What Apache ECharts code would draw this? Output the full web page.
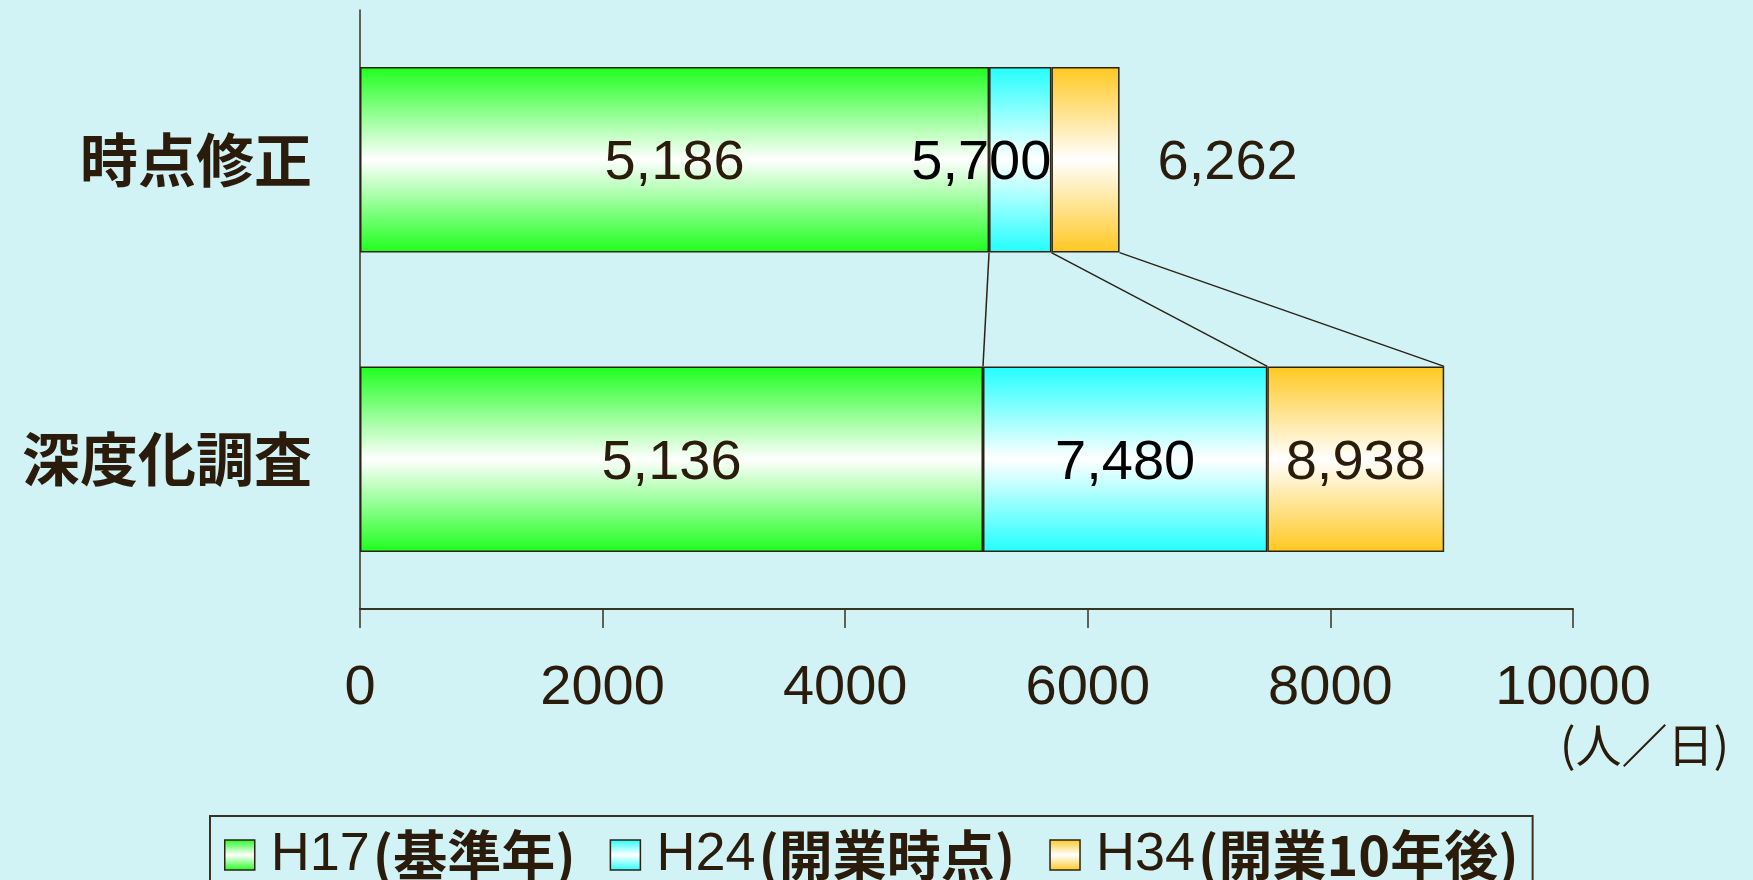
<!DOCTYPE html>
<html>
<head>
<meta charset="utf-8">
<script src="https://cdn.jsdelivr.net/npm/echarts@6/dist/echarts.min.js"></script>
<style>
html,body{margin:0;padding:0;background:#d2f3f6;}
#c{width:1753px;height:880px;}
</style>
</head>
<body>
<div id="c"></div>
<script>
// ---- data ----
const categories = ['時点修正', '深度化調査'];
const seriesNames = ['H17(基準年)', 'H24(開業時点)', 'H34(開業10年後)'];
const legendParts = [['H17', '(基準年)'], ['H24', '(開業時点)'], ['H34', '(開業10年後)']];
const totalsH17 = [5186, 5136];
const totalsH24 = [5700, 7480];
const totalsH34 = [6262, 8938];
const xTicks = [0, 2000, 4000, 6000, 8000, 10000];
const unitLabel = '(人／日)';

// ---- build ----
const chart = echarts.init(document.getElementById('c'));
const TXT = '#2a1b0b';
const EDGE = '#2b2213';
function grad(c) {
  return new echarts.graphic.LinearGradient(0, 0, 0, 1, [
    {offset: 0, color: c},
    {offset: 0.5, color: '#ffffff'},
    {offset: 1, color: c}
  ]);
}
const colors = ['#1eff1e', '#22ffff', '#ffc820'];
const totals = [totalsH17, totalsH24, totalsH34];
const fmt = v => v.toLocaleString('en-US');

const barSeries = totals.map((arr, s) => ({
  name: seriesNames[s],
  type: 'bar',
  stack: 'all',
  barWidth: '62%',
  itemStyle: {color: grad(colors[s]), borderColor: EDGE, borderWidth: 1.5},
  label: {
    show: true, position: 'inside', offset: [0, 4],
    fontFamily: 'Liberation Sans', fontSize: 56, color: s === 1 ? '#000' : TXT,
    formatter: p => fmt(arr[p.dataIndex])
  },
  data: arr.map((v, i) => {
    const val = s === 0 ? v : v - totals[s - 1][i];
    const item = {value: val};
    if (i === 0 && s === 1) item.label = {position: 'insideRight', distance: 0};
    if (i === 0 && s === 2) item.label = {position: 'right', distance: 38};
    return item;
  })
}));

const connectorData = totals.map(arr => [arr[0], arr[1], 0]);

const option = {
  backgroundColor: '#d2f3f6',
  animation: false,
  grid: {left: 360, right: 180, top: 10, bottom: 271, containLabel: false},
  xAxis: {
    type: 'value', min: xTicks[0], max: xTicks[xTicks.length - 1], interval: xTicks[1] - xTicks[0],
    splitLine: {show: false},
    axisLine: {show: true, lineStyle: {color: '#3a3222', width: 2}},
    axisTick: {show: true, length: 19, lineStyle: {color: '#3a3222', width: 1.5}},
    axisLabel: {fontFamily: 'Liberation Sans', fontSize: 56, lineHeight: 56, color: TXT, margin: 52,
      formatter: v => String(v)}
  },
  yAxis: {
    type: 'category', data: categories, inverse: true,
    axisLine: {show: true, lineStyle: {color: '#3a3222', width: 1.5}},
    axisTick: {show: false},
    axisLabel: {fontFamily: 'Noto Sans CJK JP', fontWeight: 'bold', fontSize: 58, color: TXT, margin: 48}
  },
  legend: {
    data: seriesNames,
    left: 210, top: 816,
    padding: [12, 14, 30, 14],
    borderColor: '#3a3222', borderWidth: 2,
    itemWidth: 30, itemHeight: 30, itemGap: 34,
    icon: 'rect',
    itemStyle: {borderColor: EDGE, borderWidth: 1.5},
    formatter: name => {
      const i = seriesNames.indexOf(name);
      return '{a|' + legendParts[i][0] + '}{b|' + legendParts[i][1] + '}';
    },
    textStyle: {
      color: TXT,
      rich: {
        a: {fontFamily: 'Liberation Sans', fontSize: 54, color: TXT, padding: [0, 0, 0, 11]},
        b: {fontFamily: 'Noto Sans CJK JP', fontWeight: 'bold', fontSize: 54, color: TXT, padding: [0, 3, 0, 3]}
      }
    }
  },
  graphic: [{
    type: 'text', left: 1560, top: 722,
    style: {text: unitLabel, fontFamily: 'Noto Sans CJK JP', fontSize: 46, fill: TXT}
  }],
  series: barSeries.concat([{
    type: 'custom',
    name: 'connector',
    encode: {x: [0, 1], y: 2},
    silent: true,
    z: 3,
    data: connectorData,
    renderItem: (params, api) => {
      const band = api.size([0, 1])[1];
      const half = band * 0.62 / 2;
      const p1 = api.coord([api.value(0), 0]);
      const p2 = api.coord([api.value(1), 1]);
      return {
        type: 'line',
        shape: {x1: p1[0], y1: p1[1] + half, x2: p2[0], y2: p2[1] - half},
        style: {stroke: EDGE, lineWidth: 1.5}
      };
    }
  }])
};
chart.setOption(option);
</script>
</body>
</html>
